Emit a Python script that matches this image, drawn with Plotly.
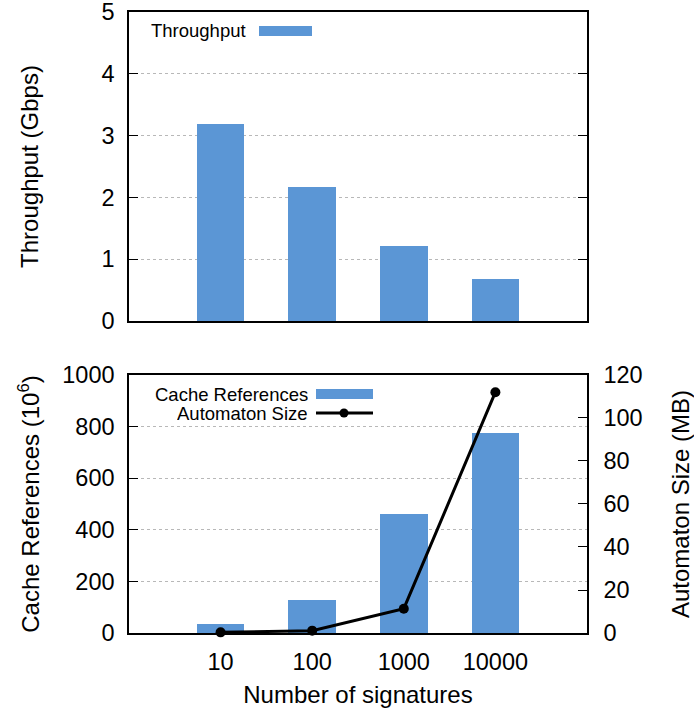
import plotly.graph_objects as go

# Number of signatures loaded into the matcher
signatures = ["10", "100", "1000", "10000"]
positions = [0, 1, 2, 3]

# Matching throughput, Gbps
throughput = [3.19, 2.17, 1.21, 0.68]

# Cache references (x 10^6)
cache_refs = [35, 129, 461, 776]

# Compiled automaton size, MB
automaton_mb = [0.3, 1.1, 11.3, 112]

BLUE = "#5b96d5"
FONT = "Liberation Sans"
GRID = "#b8b8b8"
TICK_SIZE = 23.5
TITLE_SIZE = 24

fig = go.Figure()

fig.add_trace(go.Bar(x=positions, y=throughput, marker=dict(color=BLUE, line=dict(width=0)),
                     width=0.52, xaxis="x", yaxis="y", showlegend=False))
fig.add_trace(go.Bar(x=positions, y=cache_refs, marker=dict(color=BLUE, line=dict(width=0)),
                     width=0.52, xaxis="x2", yaxis="y2", showlegend=False))
fig.add_trace(go.Scatter(x=positions, y=automaton_mb, mode="lines+markers",
                         line=dict(color="black", width=3),
                         marker=dict(color="black", size=10),
                         xaxis="x2", yaxis="y3", showlegend=False, cliponaxis=False))

xd = [0.1859, 0.8458]
axis_common = dict(showline=True, linecolor="black", linewidth=1.5, automargin=False,
                   ticklabeloverflow="allow",
                   tickfont=dict(family=FONT, size=TICK_SIZE, color="black"))
title_font = dict(family=FONT, size=TITLE_SIZE, color="black")

fig.update_layout(
    template="none",
    width=694, height=711,
    margin=dict(l=0, r=0, t=0, b=0, pad=0),
    plot_bgcolor="white", paper_bgcolor="white",
    bargap=0,
    font=dict(family=FONT, color="black"),
    xaxis=dict(domain=xd, anchor="y", range=[-1, 4], showticklabels=False,
               ticks="", showgrid=False, mirror=True, zeroline=False, automargin=False,
               showline=True, linecolor="black", linewidth=1.5),
    yaxis=dict(domain=[0.5485, 0.9831], anchor="x", range=[0, 5],
               tickvals=[0, 1, 2, 3, 4, 5], ticks="inside", ticklen=9, tickcolor="black",
               mirror="ticks", showgrid=True, gridcolor=GRID, griddash="dot",
               gridwidth=1, zeroline=False, ticklabelstandoff=8,
               title=dict(text="Throughput (Gbps)", font=title_font, standoff=56),
               **axis_common),
    xaxis2=dict(domain=xd, anchor="y2", range=[-1, 4], tickvals=positions,
                ticktext=signatures, ticks="", showgrid=False, mirror=True,
                zeroline=False, ticklabelstandoff=7,
                title=dict(text="Number of signatures", font=title_font, standoff=12),
                **axis_common),
    xaxis3=dict(domain=xd, anchor="y2", overlaying="x2", side="top", range=[-1, 4],
                tickvals=positions, ticks="inside", ticklen=9, tickcolor="black",
                showticklabels=False, showgrid=False, showline=False, zeroline=False,
                automargin=False),
    yaxis2=dict(domain=[0.1097, 0.4726], anchor="x2", range=[0, 1000],
                tickvals=[0, 200, 400, 600, 800, 1000], ticks="inside", ticklen=9,
                tickcolor="black",
                showgrid=True, gridcolor=GRID, griddash="dot", gridwidth=1,
                zeroline=False, ticklabelstandoff=8,
                title=dict(text="Cache References (10<sup>6</sup>)", font=title_font,
                           standoff=16),
                **axis_common),
    yaxis3=dict(anchor="x2", overlaying="y2", side="right", range=[0, 120],
                tickvals=[0, 20, 40, 60, 80, 100, 120], ticks="inside", ticklen=9,
                tickcolor="black",
                showgrid=False, zeroline=False, ticklabelstandoff=10,
                title=dict(text="Automaton Size (MB)", font=title_font, standoff=38),
                **axis_common),
)

# Legends drawn as key text with a sample swatch to the right
legend_font = dict(family=FONT, size=18.5, color="black")
fig.add_annotation(xref="paper", yref="paper", x=248 / 694, y=1 - 31 / 711,
                   text="Throughput", showarrow=False, xanchor="right", yanchor="middle",
                   font=legend_font)
fig.add_shape(type="rect", xref="paper", yref="paper",
              x0=259 / 694, x1=312 / 694, y0=1 - 36 / 711, y1=1 - 26 / 711,
              fillcolor=BLUE, line=dict(width=0))

fig.add_annotation(xref="paper", yref="paper", x=310 / 694, y=1 - 394 / 711,
                   text="Cache References", showarrow=False, xanchor="right",
                   yanchor="middle", font=legend_font, height=17)
fig.add_shape(type="rect", xref="paper", yref="paper",
              x0=316 / 694, x1=373 / 694, y0=1 - 399 / 711, y1=1 - 389 / 711,
              fillcolor=BLUE, line=dict(width=0))
fig.add_annotation(xref="paper", yref="paper", x=310 / 694, y=1 - 413 / 711,
                   text="Automaton Size", showarrow=False, xanchor="right",
                   yanchor="middle", font=legend_font, height=17)
fig.add_shape(type="line", xref="paper", yref="paper",
              x0=316 / 694, x1=373 / 694, y0=1 - 413 / 711, y1=1 - 413 / 711,
              line=dict(color="black", width=3))
fig.add_shape(type="circle", xref="paper", yref="paper",
              x0=339.5 / 694, x1=348.5 / 694, y0=1 - 417.5 / 711, y1=1 - 408.5 / 711,
              fillcolor="black", line=dict(color="black", width=0))

fig.write_html("out.html")
